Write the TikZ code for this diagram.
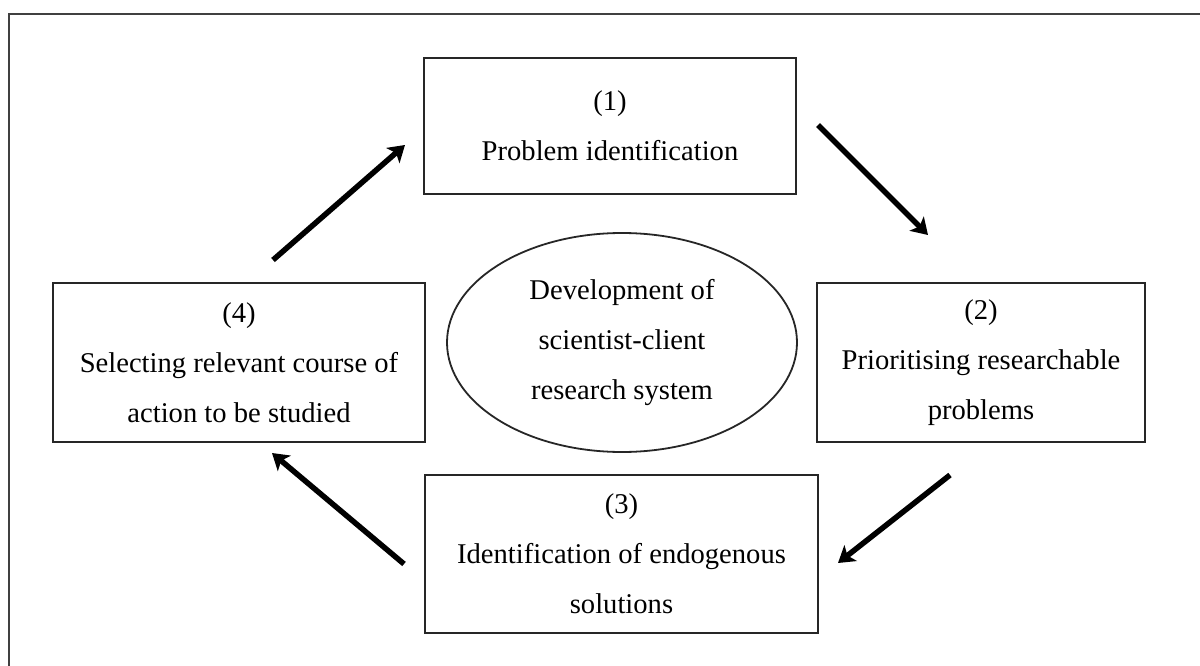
\documentclass[tikz,border=0pt]{standalone}
\usepackage{fontspec}
\setmainfont{Liberation Serif}
\usetikzlibrary{arrows.meta,shapes.geometric}
\begin{document}
\begin{tikzpicture}[x=1pt,y=-1pt,
  stagebox/.style={draw=black!85,line width=2pt,rectangle,inner sep=0pt,align=center,
    font=\fontsize{28.6}{50}\selectfont},
  flow/.style={line width=5.5pt,-{Stealth[length=16pt,width=20pt,inset=4pt]}},
  frame/.style={draw=black!75,line width=2.2pt}]
\useasboundingbox (0,0) rectangle (1200,666);
\fill[white] (0,0) rectangle (1200,666);
\draw[frame] (1200,14) -- (9,14) -- (9,666);
\node[stagebox,minimum width=372pt,minimum height=136pt] (b1) at (610,126)
  {(1)\\Problem identification};
\node[stagebox,minimum width=328pt,minimum height=159pt] (b2) at (981,362.5)
  {(2)\\Prioritising researchable\\problems};
\node[stagebox,minimum width=393pt,minimum height=158pt] (b3) at (621.5,554)
  {(3)\\Identification of endogenous\\solutions};
\node[stagebox,minimum width=372pt,minimum height=159pt] (b4) at (239,362.5)
  {(4)\\Selecting relevant course of\\action to be studied};
\node[draw=black!85,line width=1.8pt,ellipse,minimum width=350pt,minimum height=219pt,
  inner sep=0pt,align=center,font=\fontsize{28.6}{50}\selectfont] (e) at (622,342.5)
  {Development of\\scientist-client\\research system};
\coordinate (a1s) at (273,260); \coordinate (a1e) at (405,145);
\coordinate (a2s) at (818,125); \coordinate (a2e) at (928,235);
\coordinate (a3s) at (950,475); \coordinate (a3e) at (838,563);
\coordinate (a4s) at (404,564); \coordinate (a4e) at (272,453);
\draw[flow] (a1s) -- (a1e);
\draw[flow] (a2s) -- (a2e);
\draw[flow] (a3s) -- (a3e);
\draw[flow] (a4s) -- (a4e);
\end{tikzpicture}
\end{document}
